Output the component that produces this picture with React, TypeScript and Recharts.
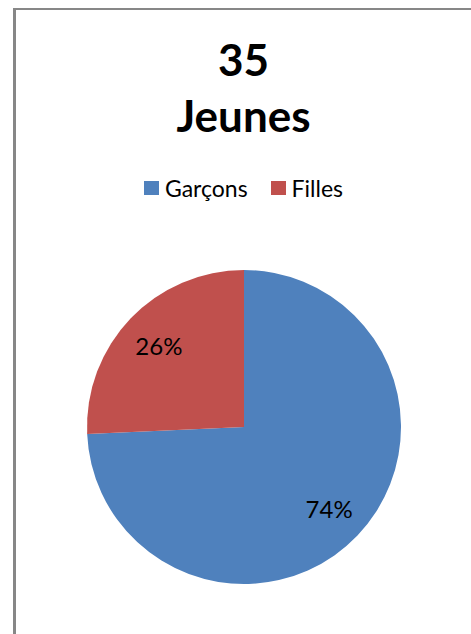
import { PieChart, Pie, Cell } from "recharts";

const title = ["35", "Jeunes"];
const categories = ["Garçons", "Filles"];
const counts = [26, 9];
const colors = ["#4F81BD", "#C0504D"];

const data = categories.map((name, i) => ({ name, value: counts[i] }));

const FONT = "Lato, 'Open Sans', sans-serif";
const RAD = Math.PI / 180;

function renderLabel(props: any) {
  const { cx, cy, midAngle, outerRadius, percent } = props;
  const r = outerRadius * 0.75;
  const x = cx + r * Math.cos(-midAngle * RAD);
  const y = cy + r * Math.sin(-midAngle * RAD);
  return (
    <text x={x} y={y} fill="#000" textAnchor="middle" dominantBaseline="central"
      fontSize={24} fontFamily={FONT}>
      {`${Math.round(percent * 100)}%`}
    </text>
  );
}

export default function App() {
  return (
    <div style={{
      position: "absolute", left: 13, top: 8, width: 455, height: 624,
      borderLeft: "3px solid #878787", borderTop: "2px solid #878787", background: "#fff",
    }}>
      <div style={{
        position: "absolute", left: 0, top: 0, width: 455, textAlign: "center",
        fontFamily: FONT, fontWeight: 700, fontSize: 44, lineHeight: "56px", color: "#000",
        paddingTop: 21, zIndex: 1,
      }}>
        {title.map((t) => <div key={t}>{t}</div>)}
      </div>
      <div style={{
        position: "absolute", left: 0, top: 164, width: 455, zIndex: 1,
        display: "flex", justifyContent: "center", alignItems: "center",
        fontFamily: FONT, fontSize: 23, color: "#000",
      }}>
        {categories.map((c, i) => (
          <div key={c} style={{ display: "flex", alignItems: "center", marginRight: i === 0 ? 23 : 0 }}>
            <span style={{ width: 15, height: 14, background: colors[i], marginRight: 6, display: "inline-block" }} />
            <span>{c}</span>
          </div>
        ))}
      </div>
      <PieChart width={455} height={624} margin={{ top: 0, right: 0, bottom: 0, left: 0 }}>
        <Pie data={data} dataKey="value" nameKey="name" cx={228} cy={417} outerRadius={157}
          startAngle={90} endAngle={-270} stroke="none" labelLine={false}
          label={renderLabel} isAnimationActive={false}>
          {data.map((d, i) => <Cell key={d.name} fill={colors[i]} />)}
        </Pie>
      </PieChart>
    </div>
  );
}
